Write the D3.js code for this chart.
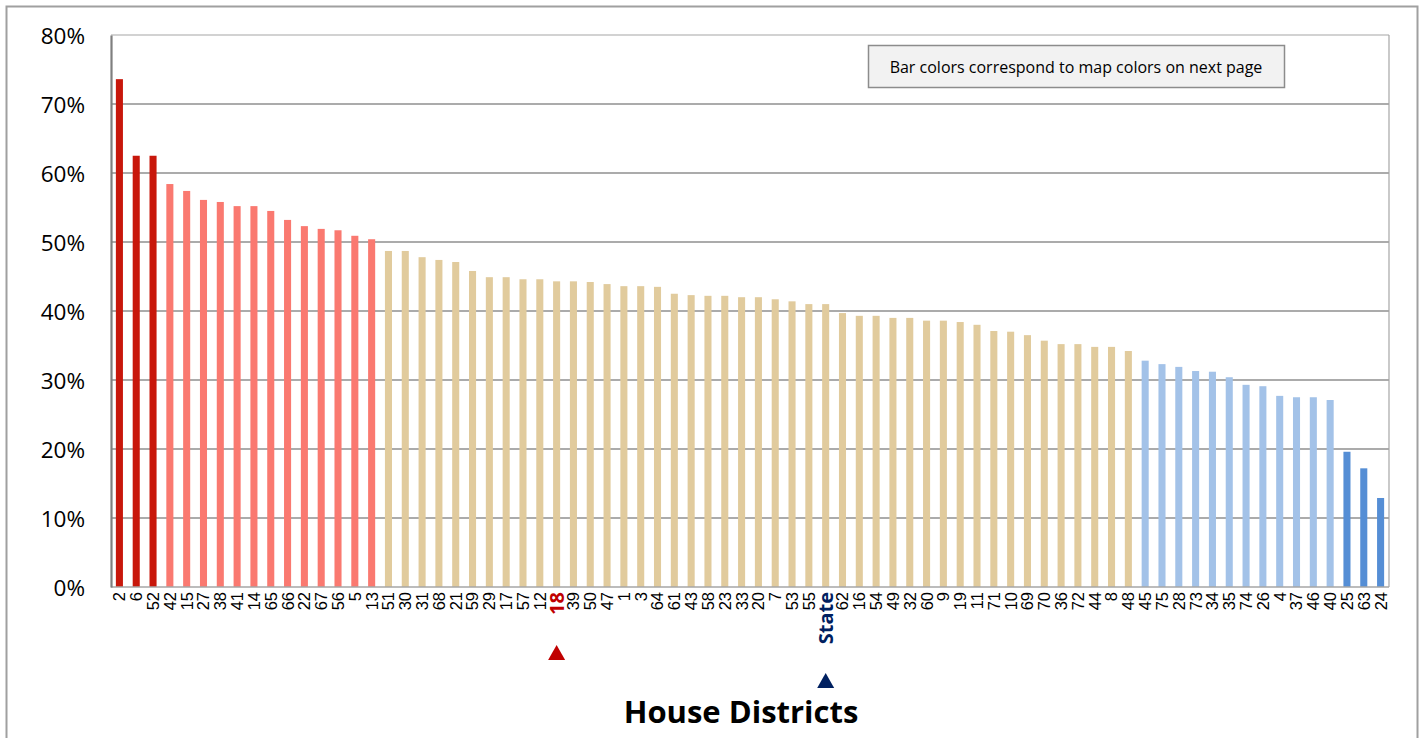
<!DOCTYPE html>
<html>
<head>
<meta charset="utf-8">
<script src="https://cdn.jsdelivr.net/npm/d3@7"></script>
<style>
  html, body { margin: 0; padding: 0; background: #ffffff; }
  svg { display: block; }
</style>
</head>
<body>
<svg id="chart" width="1424" height="738"></svg>
<script>
// ---- data ----
const districts = ["2","6","52","42","15","27","38","41","14","65","66","22","67","56","5","13",
  "51","30","31","68","21","59","29","17","57","12","18","39","50","47","1","3","64","61","43",
  "58","23","33","20","7","53","55","State","62","16","54","49","32","60","9","19","11","71",
  "10","69","70","36","72","44","8","48","45","75","28","73","34","35","74","26","4","37","46",
  "40","25","63","24"];
const values = [73.6,62.5,62.5,58.4,57.4,56.1,55.8,55.2,55.2,54.5,53.2,52.3,51.9,51.7,50.9,50.4,
  48.7,48.7,47.8,47.4,47.1,45.8,44.9,44.9,44.6,44.6,44.3,44.3,44.2,43.9,43.6,43.6,43.5,42.5,42.3,
  42.2,42.2,42.0,42.0,41.7,41.4,41.0,41.0,39.7,39.3,39.3,39.0,39.0,38.6,38.6,38.4,38.0,37.1,
  37.0,36.5,35.7,35.2,35.2,34.8,34.8,34.2,32.8,32.3,31.9,31.3,31.2,30.4,29.3,29.1,27.7,27.5,27.5,
  27.1,19.6,17.2,12.9];
const tierBreaks = [25, 33.5, 50, 60];
const yTicks = [0, 10, 20, 30, 40, 50, 60, 70, 80];
const highlightDistrict = "18";
const stateLabel = "State";
const xTitle = "House Districts";
const noteText = "Bar colors correspond to map colors on next page";

// ---- layout ----
const svg = d3.select("#chart");
const L = 111, R = 1389, T = 35, B = 587;

// outer frame
svg.append("rect").attr("x", 6.5).attr("y", 6.5).attr("width", 1411).attr("height", 760)
  .attr("fill", "none").attr("stroke", "#a0a0a0").attr("stroke-width", 2);

const x = d3.scaleBand().domain(districts).range([L, R]).paddingInner(0.58).paddingOuter(0.29);
const y = d3.scaleLinear().domain([0, 80]).range([B, T]);
const color = d3.scaleThreshold().domain(tierBreaks)
  .range(["#558ed5", "#a3c2e8", "#e1cb9d", "#fa7970", "#c8170b"]);

// gridlines
svg.append("g").selectAll("line").data(yTicks.filter(t => t > 0 && t < 80)).join("line")
  .attr("x1", L).attr("x2", R).attr("y1", d => y(d)).attr("y2", d => y(d))
  .attr("stroke", "#ababab").attr("stroke-width", 2);

// plot frame top/right
svg.append("line").attr("x1", L).attr("x2", R).attr("y1", y(80)).attr("y2", y(80))
  .attr("stroke", "#a6a6a6").attr("stroke-width", 1.2);
svg.append("line").attr("x1", R).attr("x2", R).attr("y1", T).attr("y2", B)
  .attr("stroke", "#a6a6a6").attr("stroke-width", 1.2);

// bars
svg.append("g").selectAll("rect").data(districts).join("rect")
  .attr("x", d => x(d))
  .attr("width", x.bandwidth())
  .attr("y", (d, i) => y(values[i]))
  .attr("height", (d, i) => y(0) - y(values[i]))
  .attr("fill", (d, i) => color(values[i]));

// baseline
svg.append("line").attr("x1", L).attr("x2", R).attr("y1", B).attr("y2", B)
  .attr("stroke", "#a6a6a6").attr("stroke-width", 1.5);

// y axis
const yAxis = d3.axisLeft(y).tickValues(yTicks).tickFormat(d => d + "%").tickSize(0).tickPadding(26);
const yg = svg.append("g").attr("transform", `translate(${L},0)`).call(yAxis);
yg.select(".domain").attr("stroke", "#7f7f7f").attr("stroke-width", 2.2);
yg.selectAll("text").attr("font-family", "'Open Sans', sans-serif").attr("font-size", 22.5)
  .attr("fill", "#000").attr("dy", "0.36em");

// x axis
const xAxis = d3.axisBottom(x).tickSize(0).tickPadding(0);
const xg = svg.append("g").attr("transform", `translate(0,${B})`).call(xAxis);
xg.select(".domain").remove();
xg.selectAll("text")
  .attr("transform", "rotate(-90)")
  .attr("text-anchor", "end")
  .attr("x", -5).attr("y", 0).attr("dy", "0.36em")
  .attr("font-family", "'Liberation Sans', Arial, sans-serif")
  .attr("font-size", 16.5)
  .attr("fill", "#000")
  .each(function(d) {
    const t = d3.select(this);
    if (d === highlightDistrict) {
      t.attr("font-family", "'Open Sans', sans-serif").attr("font-weight", 700)
        .attr("font-size", 20).attr("fill", "#c00000").attr("dy", "0.37em");
    } else if (d === stateLabel) {
      t.attr("font-family", "'Open Sans', sans-serif").attr("font-weight", 700)
        .attr("font-size", 20).attr("fill", "#002060").attr("dy", "0.37em");
    }
  });

// markers
const tri = (cx, top, w, h) => `M${cx - w / 2},${top + h}L${cx + w / 2},${top + h}L${cx},${top}Z`;
const cxOf = d => x(d) + x.bandwidth() / 2;
svg.append("path").attr("d", tri(cxOf(highlightDistrict), 645, 17, 15)).attr("fill", "#c00000");
svg.append("path").attr("d", tri(cxOf(stateLabel), 673, 17, 15)).attr("fill", "#002060");

// x title
svg.append("text").attr("x", 741).attr("y", 723).attr("text-anchor", "middle")
  .attr("font-family", "'Open Sans', sans-serif").attr("font-weight", 700).attr("font-size", 31)
  .attr("fill", "#000").text(xTitle);

// note box
svg.append("rect").attr("x", 868.5).attr("y", 45.5).attr("width", 416).attr("height", 42)
  .attr("fill", "#f2f2f2").attr("stroke", "#8c8c8c").attr("stroke-width", 1.5);
svg.append("text").attr("x", 1076).attr("y", 73).attr("text-anchor", "middle")
  .attr("font-family", "'Open Sans', sans-serif").attr("font-size", 16)
  .attr("fill", "#000").text(noteText);
</script>
</body>
</html>
